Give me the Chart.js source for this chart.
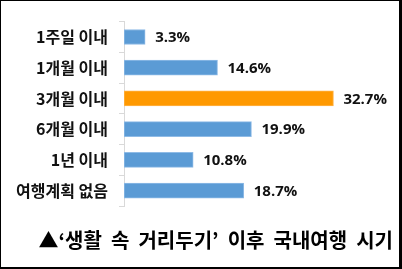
<!DOCTYPE html>
<html>
<head>
<meta charset="utf-8">
<script src="https://cdn.jsdelivr.net/npm/chart.js@4"></script>
<style>
  html, body { margin: 0; padding: 0; background: #fff; }
  #wrap {
    width: 402px; height: 269px; box-sizing: border-box;
    border-style: solid; border-color: #000; border-width: 1px 3px 2px 1px;
    background: #fff; position: relative;
  }
</style>
</head>
<body>
<div id="wrap"><canvas id="chart"></canvas></div>
<script>
var categories = ['1주일 이내', '1개월 이내', '3개월 이내', '6개월 이내', '1년 이내', '여행계획 없음'];
var shares = [3.3, 14.6, 32.7, 19.9, 10.8, 18.7];
var titleText = "▲‘생활  속  거리두기’  이후  국내여행  시기";

var blue = '#5B9BD5';
var orange = '#FF9900';
var topShare = Math.max.apply(null, shares);

// value labels drawn just past the end of each bar
var valueLabels = {
  id: 'valueLabels',
  afterDatasetsDraw: function(chart) {
    var ctx = chart.ctx;
    var meta = chart.getDatasetMeta(0);
    ctx.save();
    ctx.font = 'bold 15px "Open Sans", "Noto Sans CJK KR", sans-serif';
    ctx.fillStyle = '#111';
    ctx.textAlign = 'left';
    ctx.textBaseline = 'middle';
    meta.data.forEach(function(bar, i) {
      ctx.fillText(shares[i].toFixed(1) + '%', bar.x + 10, bar.y + 1);
    });
    ctx.restore();
  }
};

var ctx = document.getElementById('chart').getContext('2d');

var myChart = new Chart(ctx, {
  type: 'bar',
  data: {
    labels: categories,
    datasets: [{
      data: shares,
      backgroundColor: function(c) { return shares[c.dataIndex] === topShare ? orange : blue; },
      borderColor: function(c) { return shares[c.dataIndex] === topShare ? '#FFB347' : '#8FBBE6'; },
      borderWidth: 1,
      borderSkipped: false,
      barThickness: 15
    }]
  },
  options: {
    indexAxis: 'y',
    responsive: true,
    maintainAspectRatio: false,
    animation: { duration: 0 },
    layout: {
      padding: { top: 5, right: 6, bottom: 1, left: 0 }
    },
    scales: {
      x: {
        display: false,
        min: 0,
        max: 42
      },
      y: {
        afterFit: function(scale) { scale.width = 123; },
        grid: {
          display: true,
          drawOnChartArea: false,
          color: '#D9D9D9',
          tickLength: 5
        },
        border: { display: true, color: '#D9D9D9' },
        ticks: {
          padding: 11,
          color: '#111',
          font: { family: '"Noto Sans CJK KR", sans-serif', size: 16, weight: 'bold' }
        }
      }
    },
    plugins: {
      legend: { display: false },
      tooltip: { enabled: false },
      title: {
        display: true,
        text: titleText,
        position: 'bottom',
        align: 'end',
        color: '#000',
        font: { family: '"Noto Sans CJK KR", sans-serif', size: 20, weight: 'bold', lineHeight: 1.2 },
        padding: { top: 22, bottom: 14 }
      }
    }
  },
  plugins: [valueLabels]
});
</script>
</body>
</html>
